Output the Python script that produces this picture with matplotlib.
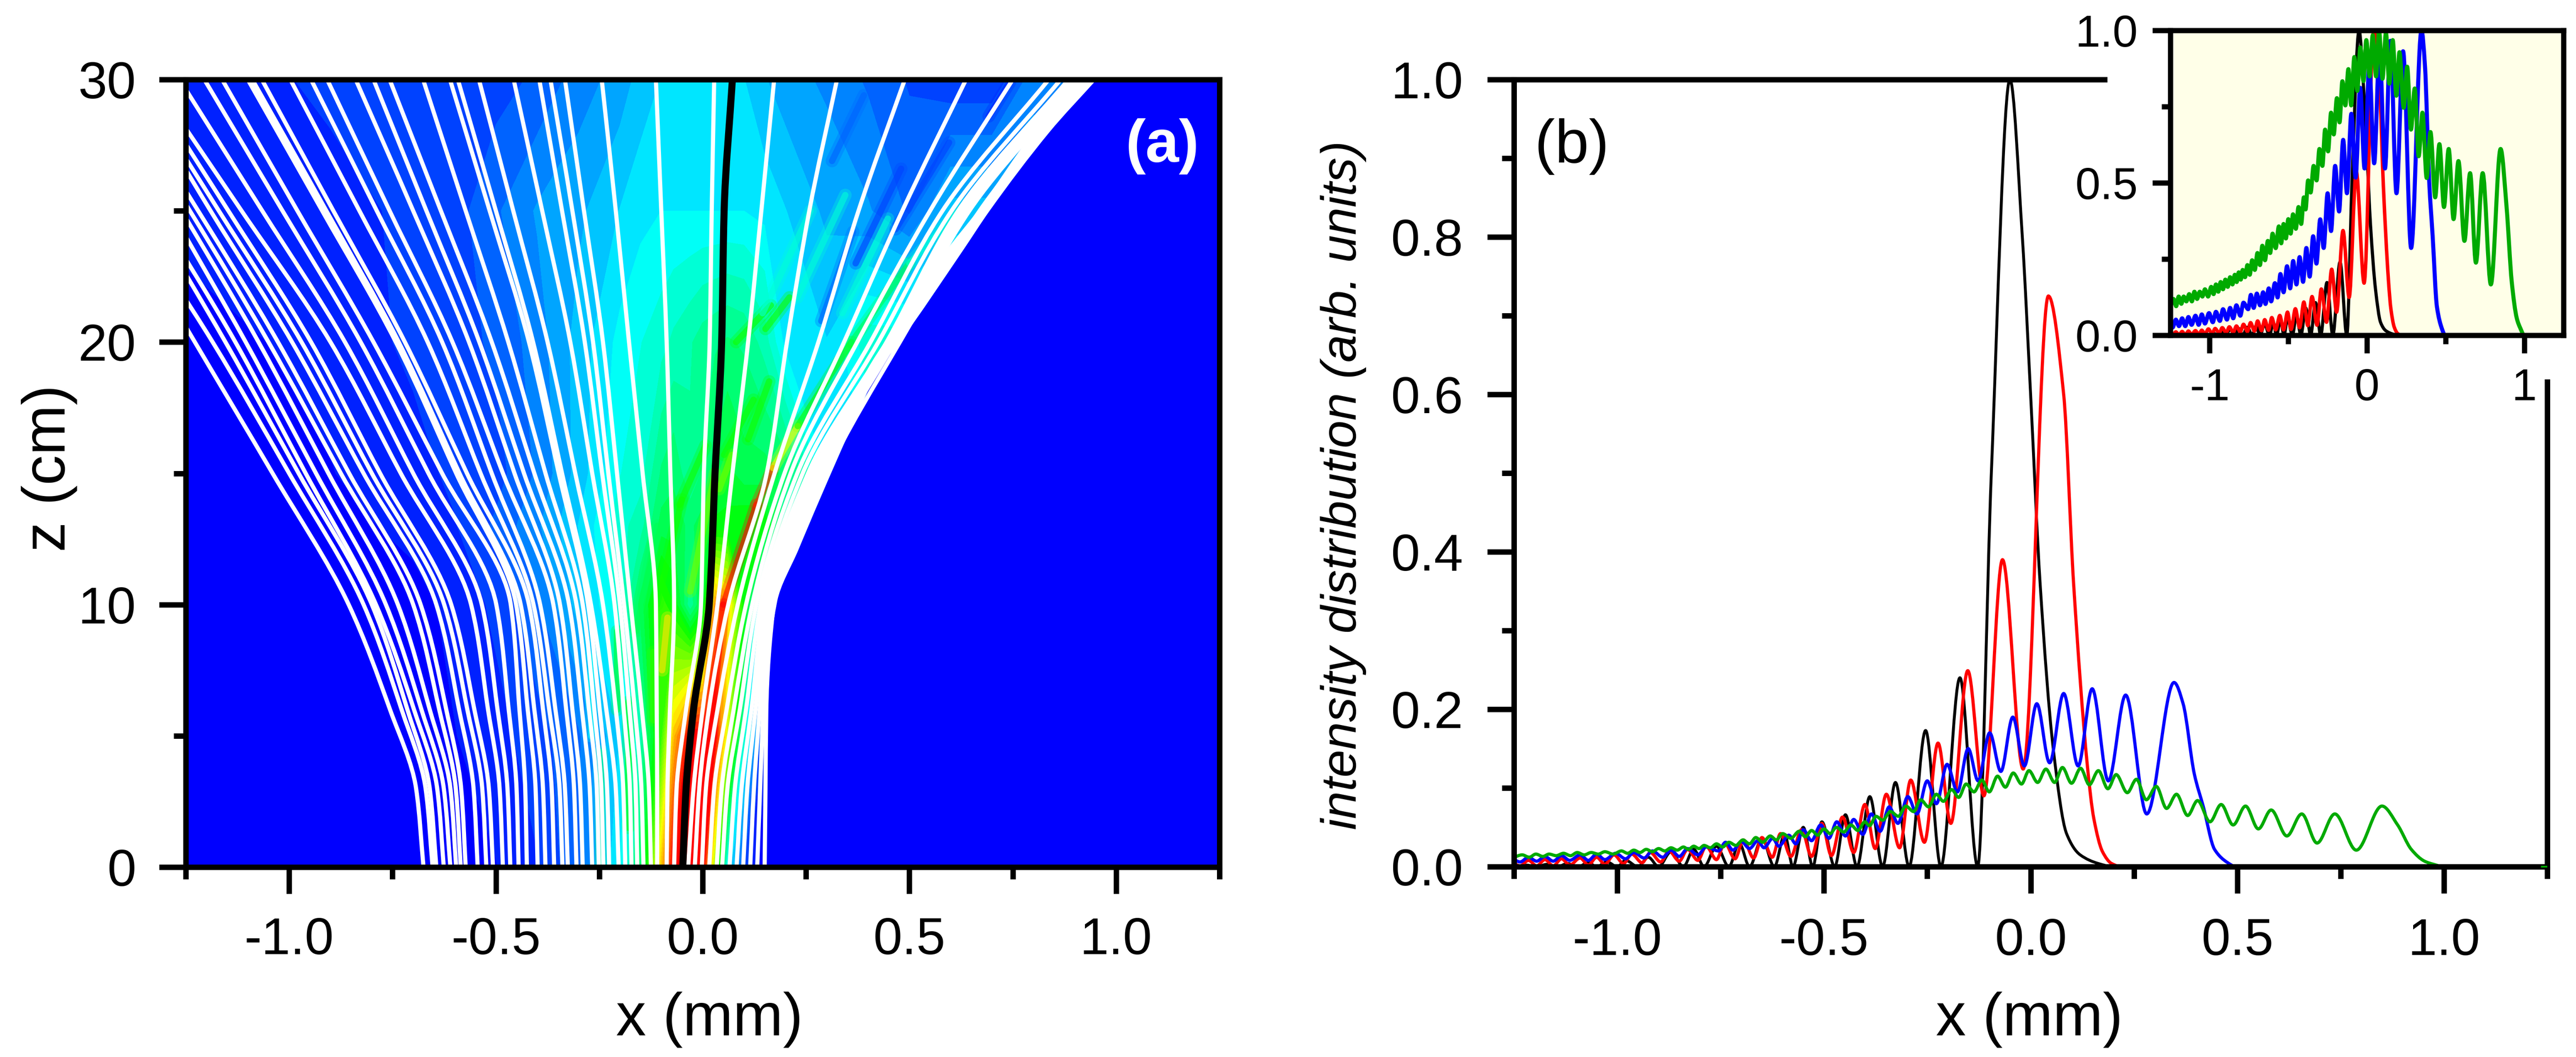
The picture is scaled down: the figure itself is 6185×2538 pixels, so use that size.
#!/usr/bin/env python
import numpy as np
import matplotlib
matplotlib.use("Agg")
import matplotlib.pyplot as plt
from matplotlib.colors import LinearSegmentedColormap
from matplotlib.path import Path
from matplotlib.patches import PathPatch

W, H = 6185, 2538
plt.rcParams['font.family'] = ['Liberation Sans', 'DejaVu Sans']

# panel (a): trajectory x (mm) at these z levels (cm)
traj_z = [0, 3, 6, 10, 15, 20, 25, 30]
left_traj = [
    [-.675, -.693, -.756, -.856, -1.04, -1.228, -1.415, -1.6],
    [-.653, -.67, -.728, -.82, -1.0, -1.185, -1.39, -1.59],
    [-.644, -.66, -.714, -.80, -.977, -1.154, -1.34, -1.52],
    [-.626, -.642, -.698, -.79, -.96, -1.13, -1.32, -1.5],
    [-.61, -.626, -.68, -.766, -.935, -1.105, -1.285, -1.46],
    [-.596, -.61, -.66, -.737, -.905, -1.074, -1.26, -1.45],
    [-.585, -.597, -.637, -.70, -.875, -1.05, -1.24, -1.44],
    [-.573, -.584, -.62, -.682, -.855, -1.027, -1.22, -1.42],
    [-.544, -.554, -.589, -.644, -.82, -.993, -1.19, -1.38],
    [-.523, -.533, -.569, -.625, -.80, -.97, -1.17, -1.37],
    [-.507, -.517, -.552, -.608, -.78, -.947, -1.147, -1.35],
    [-.483, -.491, -.519, -.56, -.73, -.90, -1.115, -1.33],
    [-.465, -.472, -.496, -.534, -.70, -.865, -1.065, -1.265],
    [-.445, -.45, -.469, -.499, -.663, -.827, -1.016, -1.205],
    [-.425, -.429, -.443, -.464, -.63, -.796, -.98, -1.162],
    [-.399, -.404, -.423, -.451, -.596, -.742, -.92, -1.10],
    [-.38, -.386, -.407, -.44, -.588, -.735, -.91, -1.089],
    [-.359, -.365, -.386, -.42, -.57, -.72, -.893, -1.066],
    [-.339, -.346, -.371, -.409, -.537, -.665, -.83, -.997],
    [-.326, -.333, -.356, -.393, -.51, -.63, -.788, -.947],
    [-.305, -.311, -.33, -.361, -.483, -.605, -.757, -.908],
    [-.29, -.296, -.315, -.345, -.455, -.565, -.70, -.839],
    [-.267, -.273, -.292, -.323, -.432, -.54, -.668, -.796],
    [-.251, -.256, -.275, -.305, -.407, -.51, -.633, -.757],
    [-.24, -.245, -.262, -.29, -.38, -.47, -.573, -.676],
    [-.226, -.231, -.249, -.277, -.348, -.42, -.515, -.611],
    [-.203, -.21, -.233, -.27, -.34, -.41, -.50, -.592],
    [-.187, -.192, -.21, -.241, -.308, -.375, -.458, -.541],
    [-.172, -.176, -.191, -.213, -.267, -.32, -.388, -.457],
    [-.158, -.162, -.177, -.20, -.243, -.285, -.34, -.395],
    [-.143, -.148, -.164, -.19, -.228, -.265, -.315, -.368],
    [-.125, -.13, -.147, -.174, -.207, -.241, -.287, -.333],
    [-.11, -.11, -.111, -.113, -.145, -.178, -.21, -.244],
    [-.087, -.085, -.079, -.069, -.078, -.087, -.10, -.113],
    [-.069, -.063, -.04, -.004, .003, .017, .022, .028],
]
black_traj = [-.048, -.04, -.022, .016, .03, .046, .052, .072]
right_traj = [
    [-.035, -.022, 0.0, .036, .072, .11, .142, .173],
    [-.019, -.008, .015, .062, .155, .204, .258, .325],
    [-.002, .008, .036, .085, .174, .28, .377, .489],
    [.016, .028, .058, .105, .198, .342, .483, .637],
    [.034, .046, .075, .12, .213, .374, .55, .75],
    [.047, .06, .09, .13, .229, .406, .58, .837],
    [.065, .078, .105, .14, .242, .425, .602, .866],
    [.082, .094, .118, .148, .255, .445, .618, .885],
    [.098, .108, .128, .155, .265, .455, .628, .89],
    [.115, .124, .138, .16, .274, .46, .634, .90],
    [.132, .139, .147, .167, .284, .465, .645, .91],
    [.15, .152, .154, .172, .30, .477, .67, .925],
]

# right edge of the beam: white band between band_x and edge_x, plain blue beyond
edge_z = [0, 5, 7.3, 10.1, 12.1, 14, 17, 19, 20, 23.5, 25, 28, 30]
edge_x = [.154, .154, .158, .18, .232, .283, .367, .428, .477, .63, .694, .839, .953]
band_x = [.154, .15, .15, .16, .20, .25, .335, .40, .44, .59, .665, .80, .91]

# panel (a): intensity on a coarse grid, 0 = blue, 1 = red
field_x = [-1.25, -.9, -.7, -.6, -.5, -.4, -.3, -.2, -.15, -.1, -.07, -.03, 0, .03, .06, .1, .15, .2, .3, .4, .5, .6, .7, .8, 1.0]
field_z = [0, 5, 10, 13, 15, 20, 25, 30]
field_z0 = [0, 0, .01, .02, .03, .06, .12, .25, .4, .8, 1, 1, 1, .65, .25, .08, 0, 0, 0, 0, 0, 0, 0, 0, 0]
field_z5 = [0, 0, .02, .03, .05, .08, .12, .22, .33, .55, .8, 1, 1, 1, .7, .3, .05, 0, 0, 0, 0, 0, 0, 0, 0]
field_z10 = [0, .01, .02, .04, .07, .12, .2, .3, .42, .55, .5, .35, .45, .85, .8, .5, .1, .05, 0, 0, 0, 0, 0, 0, 0]
field_z13 = [0, .02, .04, .06, .1, .15, .22, .3, .33, .42, .42, .4, .42, .48, .48, .5, .5, .3, .2, .2, .2, .2, .2, .2, .2]
field_z15 = [.01, .03, .05, .07, .08, .13, .2, .28, .3, .38, .4, .35, .38, .42, .45, .42, .42, .4, .25, .25, .25, .25, .25, .25, .25]
field_z20 = [.02, .04, .07, .08, .1, .14, .2, .26, .28, .3, .32, .34, .36, .37, .38, .37, .33, .24, .22, .3, .3, .3, .3, .3, .3]
field_z25 = [.04, .05, .07, .08, .12, .16, .18, .22, .24, .25, .25, .25, .25, .25, .25, .25, .24, .22, .18, .16, .12, .2, .2, .2, .2]
field_z30 = [.04, .07, .07, .07, .08, .1, .14, .17, .2, .22, .23, .24, .24, .24, .23, .22, .19, .17, .15, .12, .09, .07, .07, .14, .14]

# panel (a): diagonal streaks and narrow fringes seen over the coarse grid
ridge_x0 = [.02, .05, .13, .17, .23, .36, .5,
            -.056, .052, .11, .04, .081, .152,
            .145, .229, .338,
            .287, .37, .467, .313, .692,
            -.18, -.246, -.207, -.27, -.12, -.098, -.03, -.11, -.16]
ridge_z0 = [5, 10, 13.8, 15.2, 16.8, 20, 23,
            13.8, 15.7, 16.3, 14.4, 20, 20.5,
            21.1, 21.7, 21.1,
            20.8, 23, 24.3, 26.9, 28.6,
            1.5, 0, 6, 5, 5.6, 7.5, 10.5, 10, 9]
ridge_x1 = [.05, .13, .17, .23, .36, .5, .62,
            .007, .123, .161, .071, .165, .21,
            .261, .345, .448,
            .364, .48, .596, .39, .743,
            -.18, -.246, -.207, -.27, -.12, -.085, .03, -.05, -.11]
ridge_z1 = [10, 13.8, 15.2, 16.8, 20, 23, 25,
            16.06, 17.8, 18.5, 15.7, 21.4, 21.7,
            25, 25.6, 24.7,
            24.2, 26.6, 27.6, 29.4, 29.9,
            6.3, 4.4, 9, 8, 8.2, 9.5, 15, 14, 13]
ridge_val = [1.0, 1.0, .95, .72, .5, .42, .3,
             .5, .5, .5, .62, .5, .5,
             .3, .3, .3,
             .1, .08, .07, .1, .06,
             .48, .36, .45, .26, .55, .75, .6, .5, .42]

# panel (b): extremes and flank points of the four profiles
black_pts = [(-1.25, 0), (-1.22, .002), (-1.195, 0), (-1.17, .003), (-1.145, 0), (-1.12, .004), (-1.095, 0),
             (-1.07, .005), (-1.05, 0), (-1.025, .006), (-1.0, 0), (-.98, .008), (-.95, 0), (-.925, .012), (-.9, 0),
             (-.87, .019), (-.84, 0), (-.815, .022), (-.79, 0), (-.76, .026), (-.73, 0), (-.705, .03), (-.68, 0),
             (-.65, .036), (-.62, 0), (-.595, .041), (-.575, 0), (-.55, .05), (-.527, 0), (-.505, .057), (-.474, 0),
             (-.448, .066), (-.42, 0), (-.389, .089), (-.358, 0), (-.327, .107), (-.294, 0), (-.254, .173), (-.217, 0),
             (-.171, .24), (-.128, 0), (-.095, .5), (-.05, 1.0), (-.02, .8), (0, .6), (.023, .36), (.055, .149),
             (.087, .042), (.12, .015), (.164, .004), (.2, 0), (1.25, 0)]
red_pts = [(-1.25, .004), (-1.235, .001), (-1.215, .008), (-1.195, .001), (-1.175, .009), (-1.155, .001), (-1.135, .01),
           (-1.115, .002), (-1.09, .011), (-1.07, .002), (-1.05, .012), (-1.03, .003), (-1.008, .015), (-.985, .004),
           (-.965, .016), (-.94, .005), (-.92, .018), (-.895, .006), (-.875, .02), (-.85, .007), (-.83, .022),
           (-.805, .008), (-.785, .026), (-.76, .009), (-.74, .03), (-.715, .01), (-.695, .034), (-.67, .011),
           (-.65, .037), (-.625, .012), (-.605, .042), (-.58, .013), (-.554, .047), (-.53, .013), (-.505, .055),
           (-.482, .014), (-.455, .063), (-.428, .018), (-.401, .079), (-.376, .023), (-.349, .092), (-.317, .024),
           (-.29, .11), (-.257, .031), (-.224, .157), (-.193, .055), (-.152, .249), (-.113, .09), (-.068, .39),
           (-.018, .124), (.043, .725), (.08, .6), (.104, .36), (.137, .13), (.153, .061), (.174, .019), (.196, .004),
           (.22, 0), (1.25, 0)]
blue_pts = [(-1.25, .009), (-1.235, .006), (-1.215, .012), (-1.195, .007), (-1.175, .013), (-1.155, .007), (-1.135, .014),
            (-1.115, .008), (-1.09, .015), (-1.07, .008), (-1.05, .016), (-1.03, .009), (-1.004, .017), (-.98, .01),
            (-.96, .018), (-.935, .011), (-.915, .02), (-.89, .012), (-.87, .021), (-.85, .013), (-.83, .023),
            (-.805, .015), (-.785, .025), (-.755, .02), (-.738, .031), (-.72, .021), (-.70, .032), (-.68, .023),
            (-.66, .033), (-.645, .024), (-.624, .036), (-.609, .026), (-.585, .04), (-.568, .029), (-.55, .047),
            (-.53, .033), (-.508, .053), (-.488, .036), (-.469, .057), (-.448, .039), (-.428, .06), (-.406, .041),
            (-.385, .067), (-.364, .045), (-.342, .076), (-.321, .055), (-.297, .089), (-.275, .067), (-.25, .109),
            (-.228, .08), (-.202, .13), (-.177, .095), (-.151, .15), (-.127, .109), (-.099, .17), (-.072, .121),
            (-.043, .19), (-.015, .128), (.015, .207), (.046, .132), (.08, .22), (.115, .128), (.149, .226), (.188, .109),
            (.23, .218), (.281, .067), (.347, .234), (.369, .207), (.396, .118), (.418, .076), (.445, .022), (.477, .005),
            (.497, 0), (1.25, 0)]
green_pts = [(-1.25, .012), (-1.23, .015), (-1.213, .012), (-1.197, .016), (-1.18, .013), (-1.165, .016), (-1.148, .014),
             (-1.13, .017), (-1.113, .014), (-1.097, .018), (-1.08, .015), (-1.063, .018), (-1.046, .016), (-1.03, .019),
             (-1.01, .016), (-.99, .02), (-.975, .017), (-.96, .021), (-.945, .018), (-.93, .022), (-.915, .019),
             (-.90, .023), (-.885, .02), (-.87, .024), (-.855, .021), (-.84, .025), (-.828, .022), (-.815, .026),
             (-.802, .023), (-.79, .027), (-.775, .024), (-.76, .029), (-.745, .025), (-.73, .031), (-.713, .027),
             (-.696, .034), (-.68, .029), (-.665, .037), (-.648, .031), (-.63, .039), (-.615, .034), (-.6, .042),
             (-.58, .036), (-.56, .045), (-.545, .038), (-.53, .046), (-.515, .04), (-.5, .048), (-.485, .042),
             (-.47, .05), (-.452, .044), (-.435, .053), (-.418, .046), (-.401, .057), (-.39, .052), (-.374, .064),
             (-.358, .059), (-.339, .07), (-.32, .064), (-.302, .077), (-.283, .07), (-.266, .085), (-.247, .076),
             (-.228, .092), (-.211, .083), (-.191, .098), (-.174, .088), (-.156, .105), (-.137, .095), (-.118, .11),
             (-.1, .095), (-.08, .115), (-.061, .101), (-.042, .119), (-.022, .105), (-.004, .122), (.017, .107),
             (.037, .124), (.058, .107), (.077, .126), (.099, .106), (.121, .125), (.142, .104), (.164, .122),
             (.187, .099), (.207, .117), (.234, .094), (.256, .111), (.28, .085), (.304, .102), (.329, .074),
             (.353, .092), (.38, .065), (.404, .084), (.434, .057), (.461, .079), (.49, .053), (.52, .077),
             (.551, .048), (.582, .072), (.62, .039), (.656, .067), (.693, .03), (.736, .067), (.788, .021),
             (.85, .077), (.888, .053), (.921, .022), (.953, .007), (.975, .003), (1.0, 0), (1.25, 0)]
profile_colors = ['#000000', '#ff0000', '#0000ff', '#00aa00']
profile_lw = [5.0, 5.5, 5.5, 5.5]
inset_lw = [5.5, 6.0, 7.0, 7.0]

xticks_major = [-1.0, -0.5, 0.0, 0.5, 1.0]
xtick_labels = ['-1.0', '-0.5', '0.0', '0.5', '1.0']
xticks_minor = [-1.25, -0.75, -0.25, 0.25, 0.75, 1.25]
z_ticks = [0, 10, 20, 30]
z_minor = [5, 15, 25]
y_ticks = [0.0, 0.2, 0.4, 0.6, 0.8, 1.0]
y_labels = ['0.0', '0.2', '0.4', '0.6', '0.8', '1.0']
y_minor = [0.1, 0.3, 0.5, 0.7, 0.9]


def px_axes(fig, left, right, top, bottom):
    return fig.add_axes([left / W, 1 - bottom / H, (right - left) / W, (bottom - top) / H])


def smooth_verts(t, v):
    # monotone Bezier through the read points, flat at every extreme
    t = np.asarray(t, float)
    v = np.asarray(v, float)
    h = np.diff(t)
    d = np.diff(v) / h
    m = np.zeros(len(t))
    m[0], m[-1] = d[0], d[-1]
    for i in range(1, len(t) - 1):
        if d[i - 1] * d[i] > 0:
            m[i] = 2 * d[i - 1] * d[i] / (d[i - 1] + d[i])
    verts = [(t[0], v[0])]
    for i in range(len(h)):
        verts.append((t[i] + h[i] / 3, v[i] + m[i] * h[i] / 3))
        verts.append((t[i + 1] - h[i] / 3, v[i + 1] - m[i + 1] * h[i] / 3))
        verts.append((t[i + 1], v[i + 1]))
    return np.array(verts)


def draw_smooth(ax, verts, color, lw, zorder=2):
    codes = [Path.MOVETO] + [Path.CURVE4] * (len(verts) - 1)
    ax.add_patch(PathPatch(Path(verts, codes), fill=False, edgecolor=color, lw=lw,
                           capstyle='butt', joinstyle='round', zorder=zorder))


def fill_between_curves(ax, curve_a, curve_b, color, zorder):
    # closed shape: along curve_a, then back down curve_b
    n = len(curve_a)
    verts = np.vstack([curve_a, curve_b, curve_a[:1]])
    codes = [Path.MOVETO] + [Path.CURVE4] * (n - 1) + [Path.LINETO] + [Path.CURVE4] * (n - 1) + [Path.CLOSEPOLY]
    ax.add_patch(PathPatch(Path(verts, codes), facecolor=color, edgecolor='none', zorder=zorder))


def style_axes(ax, major_len, minor_len, width, pad, size):
    for s in ax.spines.values():
        s.set_linewidth(width)
    ax.tick_params(which='major', direction='out', length=major_len, width=width, pad=pad, labelsize=size)
    ax.tick_params(which='minor', direction='out', length=minor_len, width=width)


fig = plt.figure(figsize=(W / 100, H / 100), dpi=100, facecolor='white')
cmap = LinearSegmentedColormap.from_list('beam', ['#0000ff', '#00ffff', '#00ff00', '#ffff00', '#ff0000'], N=32)

# panel (a)
ax1 = px_axes(fig, 446, 2928, 191, 2082)
field = np.array([field_z0, field_z5, field_z10, field_z13, field_z15, field_z20, field_z25, field_z30])
ax1.contourf(field_x, field_z, field, levels=np.linspace(0, 1, 33), cmap=cmap, extend='both', zorder=0)
for x0, z0, x1, z1, val in zip(ridge_x0, ridge_z0, ridge_x1, ridge_z1, ridge_val):
    ax1.plot([x0, x1], [z0, z1], color=cmap(val), lw=22, alpha=0.3, solid_capstyle='round', zorder=0.5)
    ax1.plot([x0, x1], [z0, z1], color=cmap(val), lw=11, alpha=0.6, solid_capstyle='round', zorder=0.6)
edge_curve = smooth_verts(edge_z, edge_x)[:, ::-1]
band_curve = smooth_verts(edge_z, band_x)[:, ::-1][::-1]
fill_between_curves(ax1, edge_curve, np.array([(1.25, z) for z in edge_z[::-1] for _ in range(3)])[:len(edge_curve)], '#0000ff', 1)
fill_between_curves(ax1, edge_curve, band_curve, 'white', 1.5)
for row in left_traj + right_traj:
    draw_smooth(ax1, smooth_verts(traj_z, row)[:, ::-1], 'white', 7.2)
draw_smooth(ax1, smooth_verts(traj_z, black_traj)[:, ::-1], 'black', 12.2, zorder=2.2)
ax1.set_xlim(-1.25, 1.25)
ax1.set_ylim(0, 30)
ax1.set_facecolor('#0000ff')
ax1.set_xticks(xticks_major)
ax1.set_xticklabels(xtick_labels)
ax1.set_xticks(xticks_minor, minor=True)
ax1.set_yticks(z_ticks)
ax1.set_yticks(z_minor, minor=True)
style_axes(ax1, 46, 21, 9.4, 40, 90)
ax1.text(0.945, 0.915, '(a)', transform=ax1.transAxes, color='white', fontsize=104, fontweight='bold',
         ha='center', va='center')

# panel (b)
ax2 = px_axes(fig, 3635, 6116, 191, 2081)
series = [black_pts, red_pts, blue_pts, green_pts]
for pts, c, lw in zip(series, profile_colors, profile_lw):
    xs, ys = zip(*pts)
    draw_smooth(ax2, smooth_verts(xs, ys), c, lw)
ax2.plot([1.235, 1.25], [0, 0], color=profile_colors[3], lw=3, solid_capstyle='butt', clip_on=False, zorder=5)
ax2.set_xlim(-1.25, 1.25)
ax2.set_ylim(0, 1)
ax2.set_xticks(xticks_major)
ax2.set_xticklabels(xtick_labels)
ax2.set_xticks(xticks_minor, minor=True)
ax2.set_yticks(y_ticks)
ax2.set_yticklabels(y_labels)
ax2.set_yticks(y_minor, minor=True)
style_axes(ax2, 46, 21, 9.4, 42, 90)
ax2.spines['top'].set_bounds(-1.25, 0.179)
ax2.spines['right'].set_bounds(0, 0.616)
ax2.text(0.056, 0.915, '(b)', transform=ax2.transAxes, fontsize=105, ha='center', va='center')

# inset, each profile scaled to its own maximum
ax3 = px_axes(fig, 5211, 6155, 73, 805)
ax3.set_facecolor('#ffffe8')
for pts, c, lw in zip(series, profile_colors, inset_lw):
    xs, ys = zip(*pts)
    ys = np.array(ys) / max(ys)
    draw_smooth(ax3, smooth_verts(xs, ys), c, lw)
ax3.set_xlim(-1.25, 1.25)
ax3.set_ylim(0, 1)
ax3.set_xticks([-1, 0, 1])
ax3.set_xticklabels(['-1', '0', '1'])
ax3.set_xticks([-0.5, 0.5], minor=True)
ax3.set_yticks([0, 0.5, 1])
ax3.set_yticklabels(['0.0', '0.5', '1.0'])
ax3.set_yticks([0.25, 0.75], minor=True)
style_axes(ax3, 31, 15, 9.0, 25, 78)

fig.text(1704 / W, 1 - 2448 / H, 'x (mm)', fontsize=104, ha='center', va='center')
fig.text(4873 / W, 1 - 2448 / H, 'x (mm)', fontsize=104, ha='center', va='center')
fig.text(118 / W, 1 - 1124 / H, 'z (cm)', fontsize=104, rotation=90, ha='center', va='center')
fig.text(3225 / W, 1 - 1165 / H, 'intensity distribution (arb. units)', fontsize=86, style='italic',
         rotation=90, ha='center', va='center')

fig.savefig('out.png', dpi=100)
